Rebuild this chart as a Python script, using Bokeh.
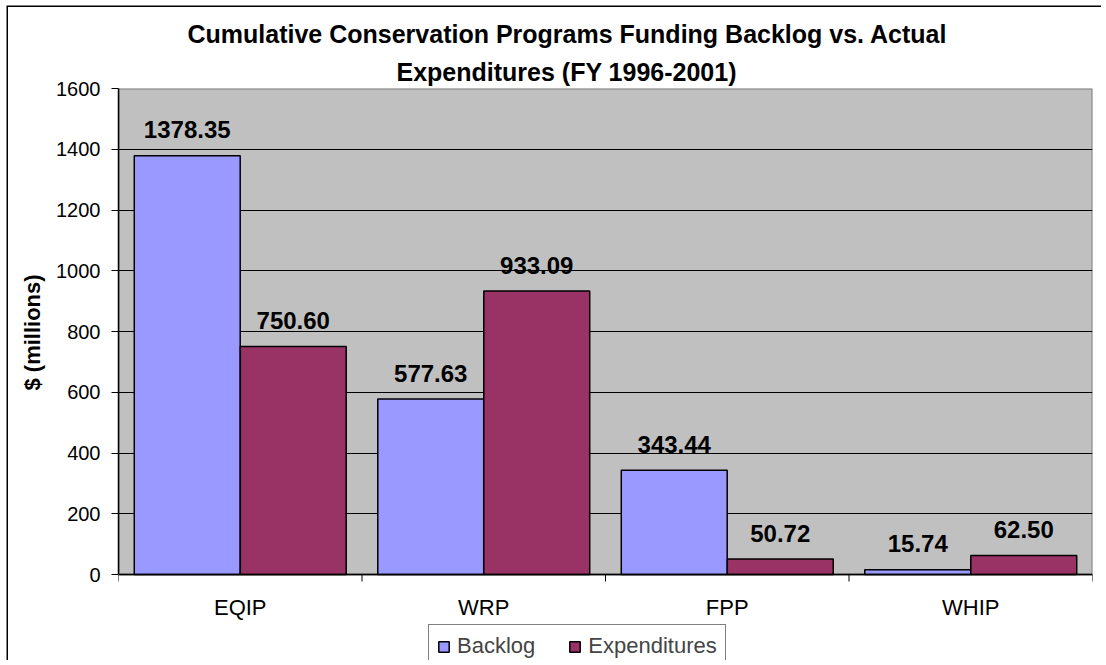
import numpy as np
from bokeh.plotting import figure
from bokeh.models import (ColumnDataSource, Range1d, FixedTicker, LabelSet, Title,
                          Legend, LegendItem, Span)
from bokeh.transform import dodge
from bokeh.core.properties import value
from bokeh.embed import file_html
from bokeh.resources import INLINE

# ---- data ----
categories = ["EQIP", "WRP", "FPP", "WHIP"]
backlog = [1378.35, 577.63, 343.44, 15.74]
expenditures = [750.60, 933.09, 50.72, 62.50]
y_ticks = [0, 200, 400, 600, 800, 1000, 1200, 1400, 1600]
title_lines = ["Cumulative Conservation Programs Funding Backlog vs. Actual",
               "Expenditures (FY 1996-2001)"]
y_label = "$ (millions)"
series_names = ["Backlog", "Expenditures"]
series_colors = ["#9999FF", "#993366"]

FONT = "Liberation Sans"
Y_MAX = y_ticks[-1]
PX_PER_UNIT = 486 / Y_MAX          # plot-area height in px / y span
BELOW_PX = 91                       # white space under the zero line
n = len(categories)

xc = [i + 0.5 for i in range(n)]
bounds_x = list(range(n + 1))
src = ColumnDataSource(dict(
    xc=xc,
    cat=categories,
    cat_y=[-40 / PX_PER_UNIT] * n,
    backlog=backlog,
    expend=expenditures,
    backlog_lbl=[f"{v:.2f}" for v in backlog],
    expend_lbl=[f"{v:.2f}" for v in expenditures],
    backlog_y=[v + 17.5 / PX_PER_UNIT for v in backlog],
    expend_y=[v + 17.5 / PX_PER_UNIT for v in expenditures],
))

p = figure(width=1098, height=658, output_backend="svg", toolbar_location=None,
           x_range=Range1d(0, n), y_range=Range1d(-BELOW_PX / PX_PER_UNIT, Y_MAX),
           x_axis_location=None,
           min_border_left=110, min_border_right=14, min_border_top=81,
           min_border_bottom=0)
p.title = None
p.styles = {"margin-left": "8px", "margin-top": "7px",
            "box-shadow": "-1.5px -1.5px 0px 0px black",
            "clip-path": "inset(-4px 5px 5px -4px)"}
p.background_fill_color = "white"
p.border_fill_color = "white"
p.outline_line_color = None

# plot area (grey wall with grey border)
p.quad(left=[0], right=[n], bottom=[0], top=[Y_MAX], fill_color="#C0C0C0",
       line_color="#808080", line_width=2, level="image")

off = 0.2177
bw = 0.435
r1 = p.vbar(x=dodge("xc", -off), top="backlog", width=bw, source=src,
            fill_color=series_colors[0], line_color="black", line_width=1.5)
r2 = p.vbar(x=dodge("xc", off), top="expend", width=bw, source=src,
            fill_color=series_colors[1], line_color="black", line_width=1.5)

# y axis
p.yaxis.ticker = FixedTicker(ticks=y_ticks)
p.yaxis.bounds = (0, Y_MAX)
p.yaxis.minor_tick_line_color = None
p.yaxis.major_tick_in = 0
p.yaxis.major_tick_out = 7
p.yaxis.major_label_standoff = 11
p.yaxis.major_label_text_font = FONT
p.yaxis.major_label_text_font_size = "20px"
p.yaxis.major_label_text_color = "black"
p.yaxis.axis_line_color = "black"
p.yaxis.axis_line_width = 1.5
p.yaxis.major_tick_line_color = "black"

# y axis title, placed alongside the plot area (bottom-anchored with offset)
p.add_layout(Title(text=y_label, align="left", offset=275, standoff=18,
                   text_font=FONT, text_font_style="bold",
                   text_font_size="22px", text_color="black"), "left")

p.xgrid.grid_line_color = None
p.ygrid.ticker = FixedTicker(ticks=y_ticks[1:-1])
p.ygrid.grid_line_color = "black"
p.ygrid.grid_line_width = 1

# category axis: zero line, boundary tick marks, centred labels
p.add_layout(Span(location=0, dimension="width", line_color="black", line_width=1.5))
p.segment(x0=bounds_x, y0=[0] * (n + 1), x1=bounds_x,
          y1=[-7 / PX_PER_UNIT] * (n + 1), line_color="black", line_width=1)
p.add_layout(LabelSet(x="xc", y="cat_y", text="cat", source=src,
                      text_align="center", text_baseline="alphabetic",
                      text_font=value(FONT), text_font_size="22px",
                      text_color="black"))

# data labels
p.add_layout(LabelSet(x=dodge("xc", -off), y="backlog_y", text="backlog_lbl", source=src,
                      text_align="center", text_baseline="alphabetic",
                      text_font=value(FONT), text_font_style="bold",
                      text_font_size="24px", text_color="black"))
p.add_layout(LabelSet(x=dodge("xc", off), y="expend_y", text="expend_lbl", source=src,
                      text_align="center", text_baseline="alphabetic",
                      text_font=value(FONT), text_font_style="bold",
                      text_font_size="24px", text_color="black"))

# title (two lines, second line nearest the plot)
p.add_layout(Title(text=title_lines[1], align="left", offset=278,
                   standoff=5, text_font=FONT, text_font_style="bold",
                   text_font_size="25px", text_color="black"), "above")
p.add_layout(Title(text=title_lines[0], align="left", offset=69,
                   standoff=12, text_font=FONT, text_font_style="bold",
                   text_font_size="25px", text_color="black"), "above")

legend = Legend(items=[LegendItem(label=series_names[0], renderers=[r1]),
                       LegendItem(label=series_names[1], renderers=[r2])],
                orientation="horizontal", location=(310, -3),
                padding=8, spacing=33, glyph_width=13, glyph_height=13,
                label_standoff=7, label_text_font=FONT,
                label_text_font_size="22px", border_line_color="black",
                border_line_width=1, background_fill_color="white",
                background_fill_alpha=1.0, margin=0)
p.add_layout(legend)

open("out.html", "w").write(file_html(p, INLINE))
